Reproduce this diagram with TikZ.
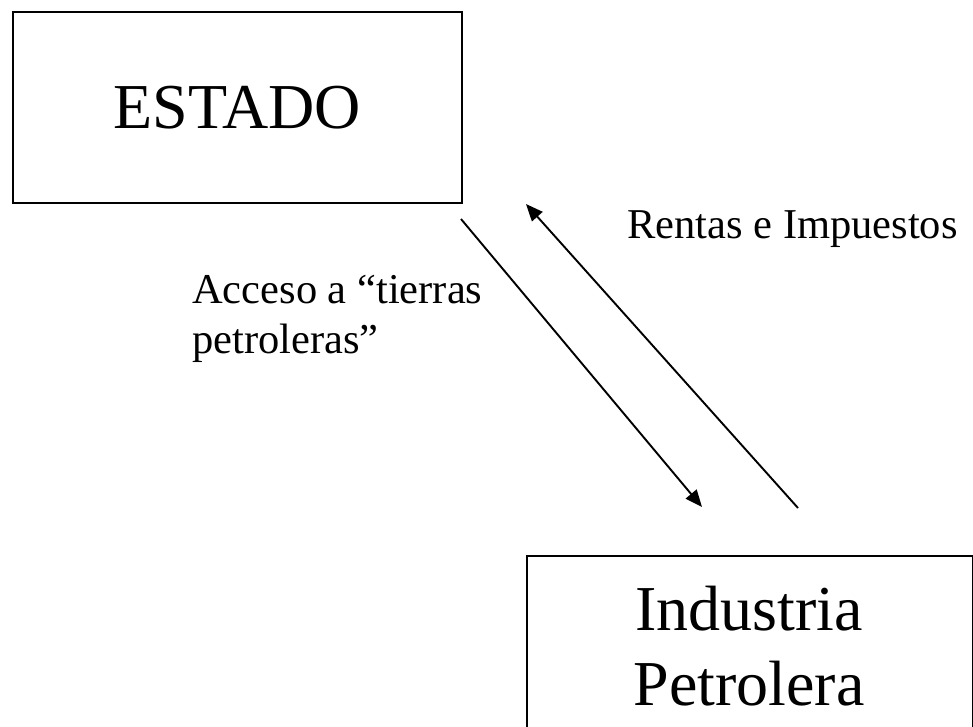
\documentclass[tikz,border=0pt]{standalone}
\usepackage{fontspec}
\setmainfont{Liberation Serif}
\usetikzlibrary{arrows.meta}
\begin{document}
\begin{tikzpicture}[x=1pt,y=-1pt,
  box/.style={draw=black, line width=2pt, rectangle, inner sep=0pt},
  bigtxt/.style={font=\fontsize{64}{75}\selectfont, inner sep=0pt},
  lbl/.style={font=\fontsize{42.5}{50}\selectfont, inner sep=0pt},
  conn/.style={line width=1.9pt, -{Triangle[length=17pt,width=14pt]}}]
\useasboundingbox (0,0) rectangle (973,726);
\node[box, bigtxt, minimum width=449pt, minimum height=191pt] (estado) at (237.5,107.5) {ESTADO};
\node[box, minimum width=446pt, minimum height=200pt, anchor=north west] (industria) at (526,555) {};
\node[bigtxt, align=center, anchor=base] (industriatxt) at (749,705) {Industria\\Petrolera};
\node[lbl, anchor=base west, align=left] (acceso) at (192,353) {Acceso a “tierras\\petroleras”};
\node[lbl, anchor=base west] (rentas) at (627,238) {Rentas e Impuestos};
\coordinate (a1) at (461,219);
\coordinate (a2) at (702,507);
\coordinate (r1) at (798,508);
\coordinate (r2) at (526,204);
\draw[conn] (a1) -- (a2);
\draw[conn] (r1) -- (r2);
\end{tikzpicture}
\end{document}
